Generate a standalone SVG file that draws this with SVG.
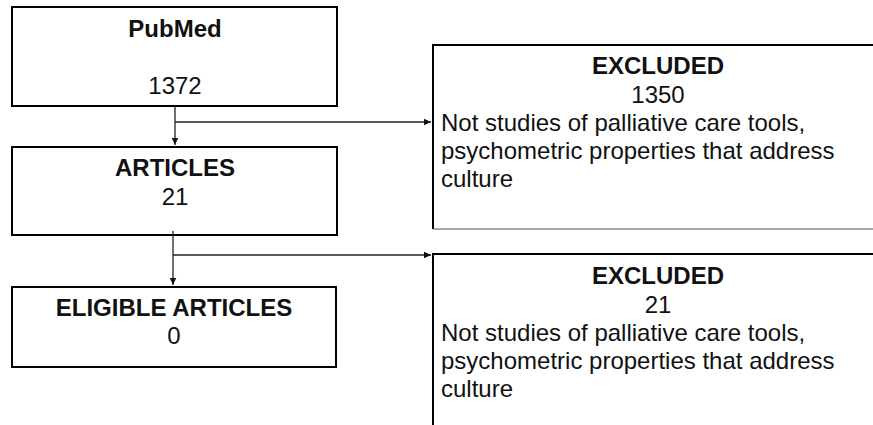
<svg xmlns="http://www.w3.org/2000/svg" width="873" height="425" viewBox="0 0 873 425">
<defs>
<style>
.box{fill:#fff;stroke:#000;stroke-width:2}
.t{font-family:"Liberation Sans",Arial,sans-serif;font-size:24px;fill:#111}
.b{font-weight:bold}
.c{text-anchor:middle}
.conn{stroke:#222;stroke-width:1.3;fill:none}
</style>
<marker id="ah" markerWidth="8" markerHeight="8" refX="7" refY="4" orient="auto" markerUnits="userSpaceOnUse">
<path d="M0,0.8 L7,4 L0,7.2 z" fill="#111"/>
</marker>
</defs>
<rect width="873" height="425" fill="#fff"/>
<g id="pubmed">
<rect class="box" x="12" y="7" width="325" height="99"/>
<text class="t b c" x="175" y="37">PubMed</text>
<text class="t c" x="175" y="94">1372</text>
</g>
<g id="articles">
<rect class="box" x="12" y="147" width="325" height="88"/>
<text class="t b c" x="175" y="176">ARTICLES</text>
<text class="t c" x="175" y="205">21</text>
</g>
<g id="eligible">
<rect class="box" x="12" y="287" width="324" height="80"/>
<text class="t b c" x="174" y="316">ELIGIBLE ARTICLES</text>
<text class="t c" x="174" y="344">0</text>
</g>
<g id="excluded1">
<path d="M874,45 H433 V229" stroke="#000" stroke-width="2" fill="none"/>
<path d="M433,229 H874" stroke="#555" stroke-width="1.2" fill="none"/>
<text class="t b c" x="658" y="74">EXCLUDED</text>
<text class="t c" x="658" y="103">1350</text>
<text class="t" x="441" y="131">Not studies of palliative care tools,</text>
<text class="t" x="441" y="159">psychometric properties that address</text>
<text class="t" x="441" y="187">culture</text>
</g>
<g id="excluded2">
<path d="M874,254 H433 V425" stroke="#000" stroke-width="2" fill="none"/>
<text class="t b c" x="658" y="284">EXCLUDED</text>
<text class="t c" x="658" y="313">21</text>
<text class="t" x="441" y="341">Not studies of palliative care tools,</text>
<text class="t" x="441" y="369">psychometric properties that address</text>
<text class="t" x="441" y="397">culture</text>
</g>
<g id="connectors">
<path class="conn" d="M175,106 V145" marker-end="url(#ah)"/>
<path class="conn" d="M175,122 H431" marker-end="url(#ah)"/>
<path class="conn" d="M173,231 V285" marker-end="url(#ah)"/>
<path class="conn" d="M173,255 H431" marker-end="url(#ah)"/>
</g>
</svg>
